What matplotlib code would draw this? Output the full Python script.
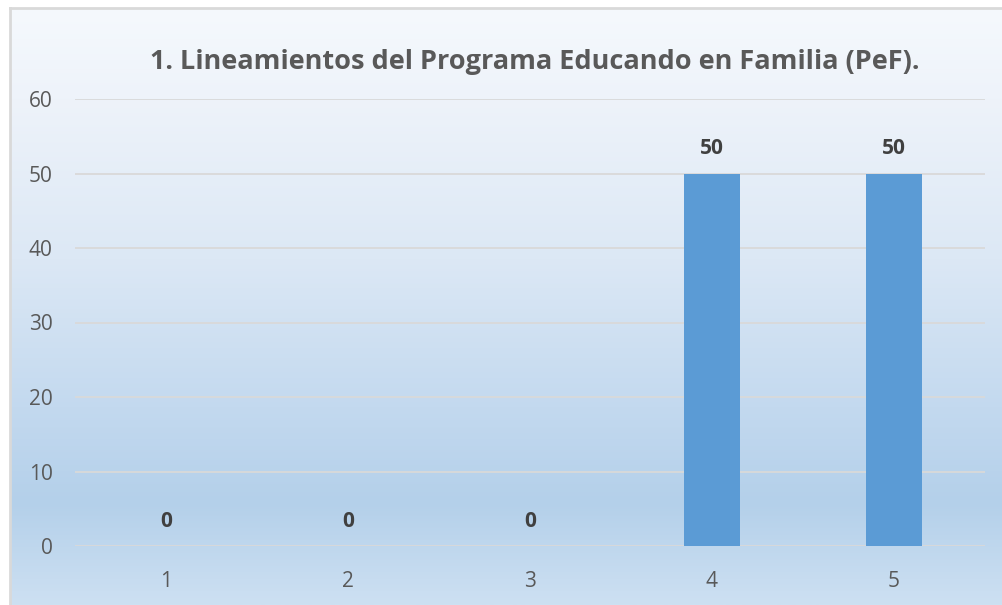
import numpy as np
import matplotlib.pyplot as plt
from matplotlib.colors import LinearSegmentedColormap

categories = ["1", "2", "3", "4", "5"]
values = [0, 0, 0, 50, 50]
title = "1. Lineamientos del Programa Educando en Familia (PeF)."

fig = plt.figure(figsize=(10.02, 6.05), dpi=100)

# background gradient panel with light border
bg = fig.add_axes([10 / 1002, 0, 1 - 10 / 1002, 1 - 8 / 605], zorder=0)
cmap = LinearSegmentedColormap.from_list(
    "bg",
    [(0.0, "#f5f9fd"), (0.15, "#eef3fa"), (0.42, "#dce8f5"),
     (0.67, "#c3d9ef"), (0.83, "#b4d0ea"), (1.0, "#cde0f2")],
)
bg.imshow(np.linspace(0, 1, 256).reshape(-1, 1), aspect="auto", cmap=cmap,
          extent=[0, 1, 0, 1])
bg.set_xticks([])
bg.set_yticks([])
for s in ["right", "bottom"]:
    bg.spines[s].set_visible(False)
for s in ["left", "top"]:
    bg.spines[s].set_color("#d9d9d9")
    bg.spines[s].set_linewidth(2)

ax = fig.add_axes([75 / 1002, 1 - 546 / 605, 910 / 1002, (546 - 99) / 605], zorder=1)
ax.patch.set_alpha(0)

x = np.arange(1, len(categories) + 1)
bars = ax.bar(x, values, width=0.31, color="#5b9bd5", zorder=3)
for xi, v in zip(x, values):
    ax.text(xi, v + 3.3, str(v), ha="center", va="center", fontsize=15,
            fontweight="bold", color="#404040", family="Open Sans")

ax.set_xlim(0.5, 5.5)
ax.set_ylim(0, 60)
ax.set_yticks(range(0, 61, 10))
ax.set_xticks(x)
ax.set_xticklabels(categories)
ax.grid(axis="y", color="#d9d9d9", linewidth=1.3, zorder=0)
for s in ax.spines.values():
    s.set_visible(False)
ax.tick_params(axis="x", length=0, labelsize=15, labelcolor="#595959", pad=18)
ax.tick_params(axis="y", length=0, labelsize=15, labelcolor="#595959", pad=16)
for lbl in ax.get_xticklabels() + ax.get_yticklabels():
    lbl.set_family("Open Sans")

fig.text(535 / 1002, 1 - 62 / 605, title, ha="center", va="center",
         fontsize=19.5, fontweight="bold", color="#595959", family="Open Sans")

fig.savefig("out.png", dpi=100, facecolor="white")
